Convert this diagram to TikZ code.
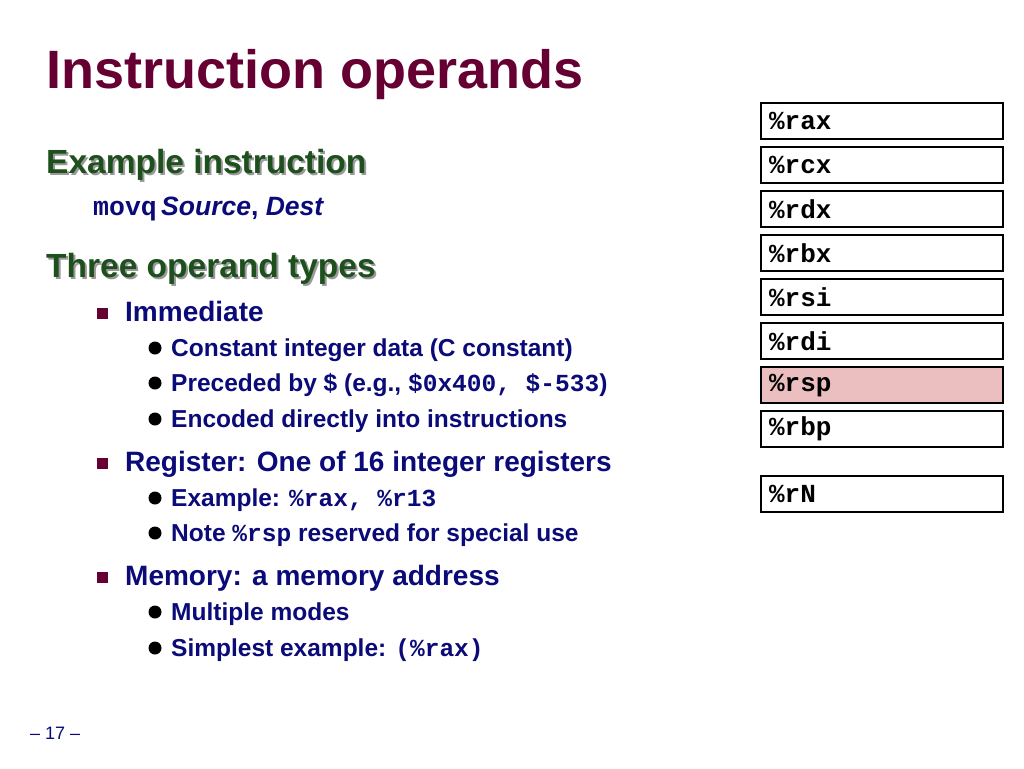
\documentclass[tikz,border=0pt]{standalone}
\usepackage{fontspec}
\setmainfont{Liberation Sans}
\setmonofont{Liberation Mono}
\begin{document}
\begin{tikzpicture}[x=1pt,y=-1pt,
  every node/.style={inner sep=0pt,anchor=base west},
  ttl/.style={text=titlec,font=\fontsize{54}{58}\selectfont\bfseries},
  head/.style={text=headc,font=\fontsize{33.5}{36}\selectfont\bfseries},
  shad/.style={text=black!40,font=\fontsize{33.5}{36}\selectfont\bfseries},
  lone/.style={text=bodyc,font=\fontsize{28}{30}\selectfont\bfseries},
  ltwo/.style={text=bodyc,font=\fontsize{24.5}{26}\selectfont\bfseries},
  sq/.style={fill=titlec,minimum size=11pt,anchor=center},
  dot/.style={circle,fill=black,minimum size=13pt,anchor=center},
  reg/.style={draw=black,line width=2.2pt,minimum width=240pt,minimum height=36pt,anchor=north west,text width=226pt,inner xsep=8pt,align=left,font=\fontsize{26}{28}\selectfont\ttfamily\bfseries,text=black}]
\definecolor{titlec}{RGB}{102,0,51}
\definecolor{headc}{RGB}{30,80,30}
\definecolor{bodyc}{RGB}{10,10,120}
\definecolor{rspc}{RGB}{235,190,192}
\useasboundingbox (0,0) rectangle (1024,768);
\node[ttl] (title) at (46,88) {Instruction operands};
\node[shad] (h1s) at (48,175) {Example instruction};
\node[head] (h1) at (46,173) {Example instruction};
\node[text=bodyc,font=\fontsize{26.5}{28}\selectfont\bfseries] (movq) at (93,215) {\ttfamily movq\,\rmfamily\itshape Source\upshape, \itshape Dest};
\node[shad] (h2s) at (48,279) {Three operand types};
\node[head] (h2) at (46,277) {Three operand types};
\node[sq] (s1) at (102,313) {};
\node[lone] (imm) at (125,321) {Immediate};
\node[dot] (d1) at (155,348) {};
\node[ltwo] (c1) at (171,356) {Constant integer data (C constant)};
\node[dot] (d2) at (155,383) {};
\node[ltwo] (c2) at (171,391) {Preceded by \$ (e.g., {\ttfamily\$0x400, \$-533})};
\node[dot] (d3) at (155,419) {};
\node[ltwo] (c3) at (171,427) {Encoded directly into instructions};
\node[sq] (s2) at (102,463) {};
\node[lone] (regt) at (125,471) {Register: One of 16 integer registers};
\node[dot] (d4) at (155,498) {};
\node[ltwo] (c4) at (171,506) {Example: {\ttfamily\%rax, \%r13}};
\node[dot] (d5) at (155,533) {};
\node[ltwo] (c5) at (171,541) {Note {\ttfamily\%rsp} reserved for special use};
\node[sq] (s3) at (102,577) {};
\node[lone] (mem) at (125,585) {Memory: a memory address};
\node[dot] (d6) at (155,612) {};
\node[ltwo] (c6) at (171,620) {Multiple modes};
\node[dot] (d7) at (155,648) {};
\node[ltwo] (c7) at (171,656) {Simplest example: {\ttfamily(\%rax)}};
\node[text=bodyc,font=\fontsize{18}{20}\selectfont] (pg) at (30,739) {– 17 –};
\node[reg] (r1) at (760,102) {\%rax};
\node[reg] (r2) at (760,146) {\%rcx};
\node[reg] (r3) at (760,190) {\%rdx};
\node[reg] (r4) at (760,234) {\%rbx};
\node[reg] (r5) at (760,278) {\%rsi};
\node[reg] (r6) at (760,322) {\%rdi};
\node[reg,fill=rspc] (r7) at (760,366) {\%rsp};
\node[reg] (r8) at (760,410) {\%rbp};
\node[reg] (r9) at (760,475) {\%rN};
\end{tikzpicture}
\end{document}
